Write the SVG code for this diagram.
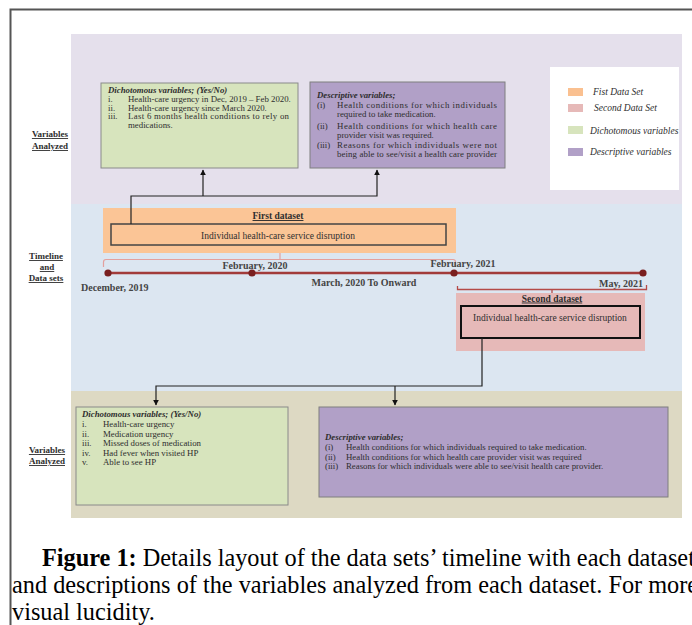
<svg xmlns="http://www.w3.org/2000/svg" width="692" height="625" viewBox="0 0 692 625">
<defs>
<marker id="ah" viewBox="0 0 10 10" refX="9" refY="5" markerWidth="5" markerHeight="5" orient="auto"><path d="M0,0 L10,5 L0,10 z" fill="#111"/></marker>
<style>
text{font-family:"Liberation Serif","Times New Roman",serif;fill:#2e2e2e}
.b{font-size:8.8px}
.bi{font-size:8.8px;font-weight:bold;font-style:italic}
.lab{font-size:9px;font-weight:bold;text-decoration:underline;text-anchor:middle}
.leg{font-size:9.5px;font-style:italic}
.tl{font-size:10px;font-weight:bold;fill:#444}
.dh{font-size:9.5px;font-weight:bold;text-decoration:underline;text-anchor:middle}
.dt{font-size:9.5px}
.cap{font-family:"Liberation Serif","Times New Roman",serif;font-size:24.3px;fill:#000}
.conn{stroke:#222;stroke-width:1.2;fill:none}
.green{fill:#d7e4bd;stroke:#8a8a8a;stroke-width:1}
.purple{fill:#b1a0c7;stroke:#7f7f7f;stroke-width:1}
</style>
</defs>
<rect width="692" height="625" fill="#fff"/>
<path d="M10.5,625 L10.5,9.5 L692,9.5" fill="none" stroke="#555" stroke-width="2"/>
<g id="panels">
<rect x="71" y="34" width="611" height="170" fill="#e5e0ec"/>
<rect x="71" y="204" width="611" height="187" fill="#dce6f1"/>
<rect x="71" y="391" width="611" height="127" fill="#ddd9c3"/>
</g>
<g id="side-labels">
<text class="lab" x="50" y="137">Variables</text>
<text class="lab" x="50" y="149">Analyzed</text>
<text class="lab" x="46" y="259">Timeline</text>
<text class="lab" x="47" y="270"> and</text>
<text class="lab" x="46" y="281">Data sets</text>
<text class="lab" x="47" y="453">Variables</text>
<text class="lab" x="47" y="464">Analyzed</text>
</g>
<g id="top-dichotomous">
<rect class="green" x="101" y="83" width="197" height="85"/>
<text class="bi" x="108" y="93">Dichotomous variables; (Yes/No)</text>
<text class="b" x="108" y="102">i.</text><text class="b" x="128" y="102">Health-care urgency in Dec, 2019 – Feb 2020.</text>
<text class="b" x="108" y="110.5">ii.</text><text class="b" x="128" y="110.5">Health-care urgency since March 2020.</text>
<text class="b" x="108" y="119">iii.</text><text class="b" x="128" y="119" textLength="161" lengthAdjust="spacing">Last 6 months health conditions to rely on</text>
<text class="b" x="128" y="127.5">medications.</text>
</g>
<g id="top-descriptive">
<rect class="purple" x="310" y="82" width="195" height="86"/>
<text class="bi" x="317" y="98">Descriptive variables;</text>
<text class="b" x="317" y="108">(i)</text><text class="b" x="337" y="108" textLength="160" lengthAdjust="spacing">Health conditions for which individuals</text>
<text class="b" x="337" y="117">required to take medication.</text>
<text class="b" x="317" y="128.5">(ii)</text><text class="b" x="337" y="128.5" textLength="160" lengthAdjust="spacing">Health conditions for which health care</text>
<text class="b" x="337" y="137.5">provider visit was required.</text>
<text class="b" x="317" y="147.5">(iii)</text><text class="b" x="337" y="147.5" textLength="160" lengthAdjust="spacing">Reasons for which individuals were not</text>
<text class="b" x="337" y="157" textLength="160" lengthAdjust="spacing">being able to see/visit a health care provider</text>
</g>
<g id="legend">
<rect x="550" y="67" width="129" height="123" fill="#fff"/>
<rect x="568" y="88" width="15" height="8" fill="#fac090"/>
<text class="leg" x="593" y="95">Fist Data Set</text>
<rect x="568" y="104" width="15" height="8" fill="#e6b9b8"/>
<text class="leg" x="594" y="111">Second Data Set</text>
<rect x="568" y="126" width="15" height="8" fill="#d7e4bd"/>
<text class="leg" x="590" y="133.5">Dichotomous variables</text>
<rect x="568" y="148" width="15" height="8" fill="#b1a0c7"/>
<text class="leg" x="590" y="155">Descriptive variables</text>
</g>
<g id="first-dataset">
<rect x="103" y="208" width="353" height="45" fill="#fbc596"/>
<text class="dh" x="278" y="219">First dataset</text>
<rect x="111" y="224" width="335" height="21" fill="none" stroke="#444" stroke-width="1.5"/>
<text class="dt" x="278" y="238.5" text-anchor="middle">Individual health-care service disruption</text>
</g>
<g id="timeline">
<path d="M103.5,267 L103.5,262 Q103.5,259.5 106,259.5 L453,259.5 Q455.5,259.5 455.5,262 L455.5,267 M280,259.5 L280,253" fill="none" stroke="#e3a09e" stroke-width="1.2"/>
<line x1="108" y1="273" x2="643" y2="273" stroke="#a23b3a" stroke-width="2.5"/>
<circle cx="108" cy="273" r="3.6" fill="#7a1f1f"/>
<circle cx="252" cy="273" r="3.6" fill="#7a1f1f"/>
<circle cx="454" cy="273" r="3.6" fill="#7a1f1f"/>
<circle cx="643" cy="273" r="3.6" fill="#7a1f1f"/>
<text class="tl" x="81" y="290.5">December, 2019</text>
<text class="tl" x="255" y="268.5" text-anchor="middle">February, 2020</text>
<text class="tl" x="364" y="285.5" text-anchor="middle">March, 2020 To Onward</text>
<text class="tl" x="463" y="267" text-anchor="middle">February, 2021</text>
<text class="tl" x="643" y="287" text-anchor="end">May, 2021</text>
<path d="M457.5,286 L457.5,289.5 L646.5,289.5 L646.5,285 M552,289.5 L552,293" fill="none" stroke="#b54a48" stroke-width="1.3"/>
</g>
<g id="second-dataset">
<rect x="456" y="293" width="189" height="58" fill="#e6b9b8"/>
<text class="dh" x="552" y="301.5">Second dataset</text>
<rect x="461" y="306" width="179" height="32" fill="none" stroke="#111" stroke-width="2"/>
<text class="dt" x="473" y="321">Individual health-care service disruption</text>
</g>
<g id="bottom-dichotomous">
<rect class="green" x="76" y="407" width="212" height="98"/>
<text class="bi" x="82" y="416.5">Dichotomous variables; (Yes/No)</text>
<text class="b" x="82" y="427">i.</text><text class="b" x="103" y="427">Health-care urgency</text>
<text class="b" x="82" y="436.5">ii.</text><text class="b" x="103" y="436.5">Medication urgency</text>
<text class="b" x="82" y="446">iii.</text><text class="b" x="103" y="446">Missed doses of medication</text>
<text class="b" x="82" y="455.5">iv.</text><text class="b" x="103" y="455.5">Had fever when visited HP</text>
<text class="b" x="82" y="465">v.</text><text class="b" x="103" y="465">Able to see HP</text>
</g>
<g id="bottom-descriptive">
<rect class="purple" x="319" y="407" width="349" height="90"/>
<text class="bi" x="325" y="440">Descriptive variables;</text>
<text class="b" x="325" y="450">(i)</text><text class="b" x="346" y="450">Health conditions for which individuals required to take medication.</text>
<text class="b" x="325" y="459.5">(ii)</text><text class="b" x="346" y="459.5">Health conditions for which health care provider visit was required</text>
<text class="b" x="325" y="469">(iii)</text><text class="b" x="346" y="469">Reasons for which individuals were able to see/visit health care provider.</text>
</g>
<g id="connectors">
<path class="conn" d="M131,224 L131,196 L377,196 L377,170" marker-end="url(#ah)"/>
<path class="conn" d="M203,196 L203,170" marker-end="url(#ah)"/>
<path class="conn" d="M482,338 L482,386 L156,386 L156,405" marker-end="url(#ah)"/>
<path class="conn" d="M395,386 L395,405" marker-end="url(#ah)"/>
</g>
<g id="caption">
<text class="cap" x="42" y="566"><tspan font-weight="bold">Figure 1:</tspan> Details layout of the data sets’ timeline with each dataset</text>
<text class="cap" x="12" y="593">and descriptions of the variables analyzed from each dataset. For more</text>
<text class="cap" x="12" y="620">visual lucidity.</text>
</g>
</svg>
